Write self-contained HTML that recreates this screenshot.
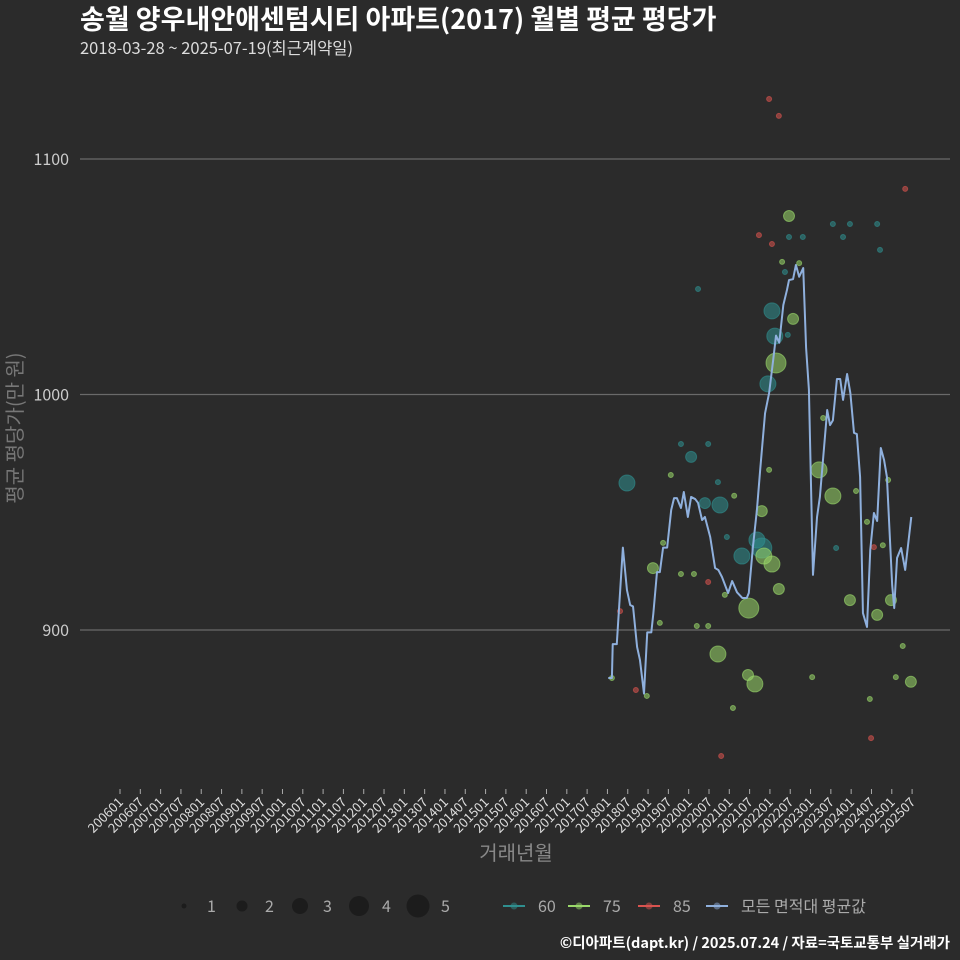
<!DOCTYPE html>
<html><head><meta charset="utf-8">
<style>
html,body{margin:0;padding:0;background:#2b2b2b;}
svg{display:block;font-family:"Noto Sans CJK KR","Liberation Sans",sans-serif;}
</style></head>
<body>
<svg id="chart" width="960" height="960" viewBox="0 0 960 960" xmlns="http://www.w3.org/2000/svg">
<rect width="960" height="960" fill="#2b2b2b"/>
<text x="80" y="29" fill="#ffffff" font-size="27" font-weight="bold">송월 양우내안애센텀시티 아파트(2017) 월별 평균 평당가</text>
<text x="80" y="54" fill="#dddddd" font-size="16.5">2018-03-28 ~ 2025-07-19(최근계약일)</text>
<g id="grid"></g>
<g id="yticks"></g>
<g id="xticks"></g>
<g id="points"></g>
<g id="line"></g>
<text transform="translate(22,428) rotate(-90)" text-anchor="middle" fill="#777" font-size="20">평균 평당가(만 원)</text>
<text x="516" y="860" text-anchor="middle" fill="#888" font-size="20">거래년월</text>
<g id="legend"></g>
<text x="950" y="948" text-anchor="end" fill="#ffffff" font-size="14.5" font-weight="bold">©디아파트(dapt.kr) / 2025.07.24 / 자료=국토교통부 실거래가</text>
</svg>
<script>
const yTicks=[900,1000,1100];
const xTickLabels=[];
for(let y=2006;y<=2025;y++){xTickLabels.push(y+'01');xTickLabels.push(y+'07');}
// line: decimal year, value
const lineT=[2018.02,2018.11,2018.13,2018.23,2018.38,2018.48,2018.56,2018.63,2018.73,2018.80,2018.90,2018.98,2019.08,2019.13,2019.22,2019.29,2019.37,2019.47,2019.57,2019.64,2019.71,2019.81,2019.88,2019.98,2020.06,2020.16,2020.23,2020.33,2020.40,2020.53,2020.65,2020.73,2020.82,2020.97,2021.07,2021.19,2021.32,2021.43,2021.48,2021.58,2021.68,2021.76,2021.88,2021.98,2022.08,2022.15,2022.23,2022.33,2022.42,2022.47,2022.57,2022.64,2022.72,2022.82,2022.89,2022.96,2023.06,2023.16,2023.23,2023.41,2023.48,2023.55,2023.65,2023.73,2023.80,2023.90,2023.98,2024.07,2024.14,2024.22,2024.29,2024.39,2024.47,2024.56,2024.64,2024.73,2024.81,2024.88,2025.01,2025.06,2025.13,2025.23,2025.33,2025.48];
const lineV=[879.6,879.6,894,894,935,917,910.6,910,892.8,887.3,873,899,899,907,924.6,924.6,935,935,951,956,956,951.8,958.6,948,956.5,955.6,954,946.7,948,939.5,926.3,925.5,922.5,915.7,920.8,916,913.6,913.6,915.7,935,951,968,992,1000.6,1014.6,1025,1022,1038,1044.4,1048.6,1049,1055,1050,1053.7,1020,1002,923.4,948,956.5,993.4,987,989,1006.6,1006.6,997.7,1008.7,1000.6,983.7,983.2,965,907.2,901.3,934,949.7,946.3,977.3,972.2,965,919,909.3,930.6,934.8,925.5,948];
// scatter: decimal year, value, count, area group
const ptT=[2018.48,2020.06,2020.40,2020.77,2021.31,2021.80,2021.95,2022.05,2022.12,2021.68,2019.81,2020.48,2020.23,2020.72,2020.94,2022.44,2022.37,2022.47,2022.81,2023.55,2023.80,2023.97,2024.64,2024.71,2023.63,
2019.12,2019.37,2019.56,2019.81,2020.13,2020.20,2020.48,2020.72,2021.48,2021.46,2021.63,2021.80,2021.85,2022.05,2022.22,2022.15,2022.57,2022.47,2022.72,2022.30,2021.98,2023.21,2023.55,2023.97,2024.64,2024.98,2025.47,2023.31,2024.12,2024.39,2024.78,2024.91,2024.46,2025.10,2025.27,2023.04,2018.11,2018.97,2019.29,2021.09,2020.89,2021.12,
2018.31,2018.70,2020.80,2020.48,2021.98,2022.22,2021.73,2022.05,2025.33,2024.56,2024.49];
const ptV=[962.4,973.5,953.9,953.1,931.4,934.8,1004.5,1035.5,1024.8,938.2,979,979,1044.8,962.8,939.5,1025.3,1052,1066.9,1066.9,1072.4,1066.9,1072.4,1072.4,1061.4,934.8,
926.3,937,965.8,923.8,923.8,901.7,901.7,889.8,909.3,880.9,877.1,950.5,931.4,928,917.4,1013.4,1032.1,1075.8,1055.8,1056.3,968,968,956.9,912.7,906.4,912.7,878,990,959,945.9,936,963.7,870.7,880,893.2,880,879.6,872,903,866.9,914.9,957,
908,874.5,846.5,920.4,1125.5,1118.3,1067.7,1063.9,1087.3,935.2,854.1];
const ptN=[3,2,2,3,3,4,3,3,3,3,1,1,1,1,1,1,1,1,1,1,1,1,1,1,1,
2,1,1,1,1,1,1,3,4,2,3,2,3,3,2,4,2,2,1,1,1,3,3,2,2,2,2,1,1,1,1,1,1,1,1,1,1,1,1,1,1,1,
1,1,1,1,1,1,1,1,1,1,1];
const ptG=[60,60,60,60,60,60,60,60,60,60,60,60,60,60,60,60,60,60,60,60,60,60,60,60,60,
75,75,75,75,75,75,75,75,75,75,75,75,75,75,75,75,75,75,75,75,75,75,75,75,75,75,75,75,75,75,75,75,75,75,75,75,75,75,75,75,75,75,
85,85,85,85,85,85,85,85,85,85,85];
const legendSizes=[1,2,3,4,5];
const legendGroups=['60','75','85','모든 면적대 평균값'];

const NS='http://www.w3.org/2000/svg';
const X0=120,PXM=3.385;
function xs(t){return X0+(t-2006)*12*PXM;}
function ys(v){return 630-(v-900)*2.355;}
function rs(n){return [0,2.5,5.5,8,10,11.5][n];}
const col={60:'#2f8f8f',75:'#9ad86a',85:'#d9534f'};
function mk(tag,attrs,parent){const e=document.createElementNS(NS,tag);for(const k in attrs)e.setAttribute(k,attrs[k]);parent.appendChild(e);return e;}

const grid=document.getElementById('grid'),yt=document.getElementById('yticks');
yTicks.forEach(v=>{
  const l=mk('line',{x1:80,x2:950,y1:ys(v),y2:ys(v),stroke:'#6a6a6a','stroke-width':1.2},grid);
  
  
  const t=mk('text',{x:69,y:ys(v)+6,'text-anchor':'end',fill:'#cccccc','font-size':16},yt);
  t.textContent=v;
  
  
});
const xt=document.getElementById('xticks');
xTickLabels.forEach((lab,i)=>{
  const x=X0+i*6*PXM;
  const tk=mk('line',{x1:x,x2:x,y1:789,y2:794,stroke:'#aaa','stroke-width':1},xt);
  
  
  const t=mk('text',{x:x+4,y:803,'text-anchor':'end',fill:'#dddddd','font-size':13,transform:`rotate(-45 ${x+4} 803)`},xt);
  t.textContent=lab;
  
  
});
const pg=document.getElementById('points');
ptT.forEach((t,i)=>{
  const c=mk('circle',{cx:xs(t),cy:ys(ptV[i]),r:rs(ptN[i]),fill:col[ptG[i]],'fill-opacity':0.55,stroke:col[ptG[i]],'stroke-opacity':0.6},pg);
  
  
});
const lg=document.getElementById('line');
const p=mk('polyline',{points:lineT.map((t,i)=>xs(t)+','+ys(lineV[i])).join(' '),fill:'none',stroke:'#8fb0dd','stroke-width':2,'stroke-linejoin':'round'},lg);



const leg=document.getElementById('legend');
const lx=[184,242,300,359,418];
legendSizes.forEach((n,i)=>{
  const c=mk('circle',{cx:lx[i],cy:906,r:rs(n),fill:'#1c1c1c'},leg);
  
  
  const t=mk('text',{x:lx[i]+23,y:912,fill:'#aaaaaa','font-size':16},leg);
  t.textContent=n;
  
  
});
const gx=[503,568,638,706],gc=['#2f8f8f','#9ad86a','#d9534f','#8fb0dd'];
legendGroups.forEach((g,i)=>{
  const l=mk('line',{x1:gx[i],x2:gx[i]+22,y1:906,y2:906,stroke:gc[i],'stroke-width':2},leg);
  
  
  const c=mk('circle',{cx:gx[i]+11,cy:906,r:3.5,fill:gc[i],'fill-opacity':0.5},leg);
  
  
  const t=mk('text',{x:gx[i]+35,y:912,fill:'#aaaaaa','font-size':16},leg);
  t.textContent=g;
  
  
});
</script>
</body></html>
